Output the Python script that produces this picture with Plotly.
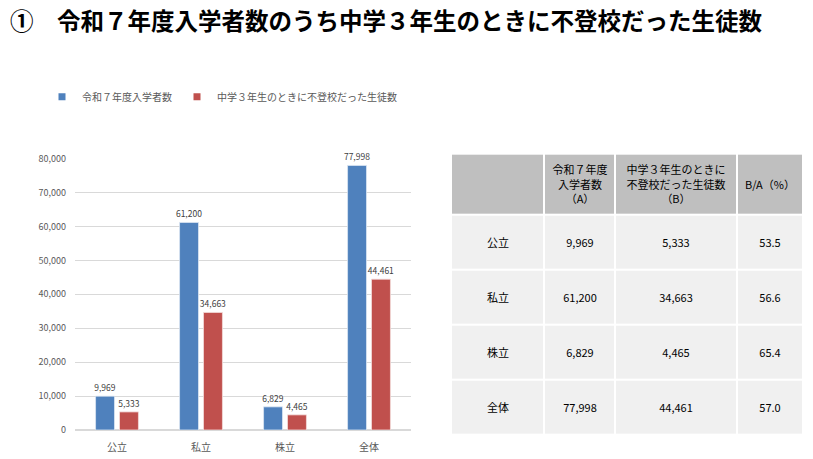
import plotly.graph_objects as go

W, H = 813, 459
OFF_X = 8            # page margin shift seen in the snapshot
OFF_Y, SY = 14, 0.974

categories = ["公立", "私立", "株立", "全体"]
enrolled = [9969, 61200, 6829, 77998]
truant = [5333, 34663, 4465, 44461]
ratio = [53.5, 56.6, 65.4, 57.0]

series_names = ["令和７年度入学者数", "中学３年生のときに不登校だった生徒数"]
table_header = ["", "令和７年度<br>入学者数<br>（A）", "中学３年生のときに<br>不登校だった生徒数<br>（B）", "B/A（%）"]

FONT = "Noto Sans CJK JP"
BLUE = "#4f81bd"
RED = "#c0504d"


def px_x(x):
    return (x - OFF_X) / W


def px_y(y):
    return 1 - (y - OFF_Y) / SY / H


fig = go.Figure()

for vals, name, color, edge in [(enrolled, series_names[0], BLUE, "#dce6f2"),
                                (truant, series_names[1], RED, "#f2dcdb")]:
    fig.add_trace(go.Bar(
        x=categories, y=vals, name=name, showlegend=False,
        marker=dict(color=color, line=dict(color=edge, width=0.8)),
        text=[f"{v:,}" for v in vals], textposition="outside",
        textfont=dict(size=8.5, color="#404040"), cliponaxis=False,
        constraintext="none",
    ))
    # small square legend entries like the original
    fig.add_trace(go.Scatter(
        x=[None], y=[None], mode="markers", name=name,
        marker=dict(symbol="square", size=7, color=color),
    ))

# table drawn as a heatmap: column widths / row heights as bin edges
col_edges = [0, 93, 164, 286, 352]
row_edges = [0, 61, 116, 171, 226, 281]
table_text = [table_header] + [
    [c, f"{a:,}", f"{b:,}", f"{r:.1f}"]
    for c, a, b, r in zip(categories, enrolled, truant, ratio)
]
table_z = [[1] * 4] + [[0] * 4 for _ in categories]

fig.add_trace(go.Heatmap(
    x=col_edges, y=row_edges, z=table_z, text=table_text,
    texttemplate="%{text}", textfont=dict(family=FONT, size=11, color="black"),
    colorscale=[[0, "#f0f0f0"], [1, "#bfbfbf"]], zmin=0, zmax=1,
    showscale=False, xgap=2, ygap=2, hoverinfo="skip",
    xaxis="x2", yaxis="y2",
))

fig.add_annotation(
    text="<b>①　令和７年度入学者数のうち中学３年生のときに不登校だった生徒数</b>",
    xref="paper", yref="paper", x=px_x(8), y=px_y(19),
    xanchor="left", yanchor="middle", showarrow=False,
    font=dict(family=FONT, size=23.5, color="black"),
)

fig.update_layout(
    width=W, height=H,
    margin=dict(l=0, r=0, t=0, b=0),
    paper_bgcolor="white", plot_bgcolor="white",
    font=dict(family=FONT, color="#595959"),
    barmode="group", bargap=0.43, bargroupgap=0.21,
    showlegend=True,
    legend=dict(
        orientation="h", x=px_x(42), y=px_y(96), xanchor="left", yanchor="middle",
        font=dict(size=10, color="#595959"), itemwidth=30,
    ),
    xaxis=dict(
        domain=[px_x(75), px_x(411)], anchor="y",
        tickfont=dict(size=10, color="#595959"), showline=False, ticks="",
        ticklabelstandoff=10,
    ),
    yaxis=dict(
        domain=[px_y(430), px_y(158)], range=[0, 80000], dtick=10000,
        tickformat=",", tickfont=dict(size=9, color="#595959"),
        gridcolor="#d9d9d9", zeroline=True, zerolinecolor="#d9d9d9",
        showline=False, ticks="", ticklabelstandoff=8,
    ),
    xaxis2=dict(
        domain=[px_x(451), px_x(803)], anchor="y2", range=[0, 352],
        visible=False, fixedrange=True,
    ),
    yaxis2=dict(
        domain=[px_y(435), px_y(153)], anchor="x2", range=[281, 0],
        visible=False, fixedrange=True,
    ),
)

fig.write_html("out.html")
